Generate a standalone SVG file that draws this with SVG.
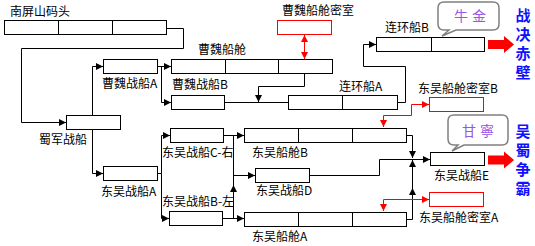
<svg xmlns="http://www.w3.org/2000/svg" width="535" height="246" viewBox="0 0 535 246">
<defs>
<style>
.bx{fill:#fff;stroke:#000;stroke-width:1}
.rb{fill:#fff;stroke:#f00;stroke-width:1}
.dv{stroke:#000;stroke-width:1}
.ln{fill:none;stroke:#000;stroke-width:1}
.rl{fill:none;stroke:#f00;stroke-width:1}
.t{font-family:"Noto Sans CJK SC","Noto Sans",sans-serif;font-size:12px;fill:#000}
.bt{font-family:"Noto Sans CJK SC",sans-serif;font-size:15px;font-weight:bold;fill:#1010ff}
.pt{font-family:"Noto Sans CJK SC",sans-serif;font-size:14px;fill:#9a55e6;letter-spacing:4px}
.bub{fill:#fff;stroke:#808080;stroke-width:1.5}
</style>
<marker id="a" markerWidth="8" markerHeight="8" refX="7" refY="4" orient="auto-start-reverse" markerUnits="userSpaceOnUse"><path d="M0,0.5 L7,4 L0,7.5z" fill="#000"/></marker>
<marker id="r" markerWidth="8" markerHeight="8" refX="7" refY="4" orient="auto-start-reverse" markerUnits="userSpaceOnUse"><path d="M0,0.5 L7,4 L0,7.5z" fill="#f00"/></marker>
</defs>
<rect width="535" height="246" fill="#fff"/>

<g id="connectors">
<path class="ln" d="M166.5,28.5 H183.5 V48.5 H21.5 V122.5 H66" marker-end="url(#a)"/>
<path class="ln" d="M92.5,115.5 V66.5 H103" marker-end="url(#a)"/>
<path class="ln" d="M92.5,129.5 V173.5 H103" marker-end="url(#a)"/>
<path class="ln" d="M157.5,66.5 H171" marker-end="url(#a)"/>
<path class="ln" d="M161.5,66.5 V102.5 H171" marker-end="url(#a)"/>
<path class="ln" d="M304.5,73.5 V86.5 H258.5 V102" marker-end="url(#a)"/>
<path class="ln" d="M224.5,102.5 H288.5"/>
<path class="ln" d="M397.5,102.5 H405.5 V66.5 H363.5 V44.5 H376" marker-end="url(#a)"/>
<path class="ln" d="M157.5,173.5 H161.5 V135.5 H170" marker-end="url(#a)"/>
<path class="ln" d="M161.5,173.5 V218.5 H169" marker-end="url(#a)"/>
<path class="ln" d="M223.5,135.5 H244" marker-end="url(#a)"/>
<path class="ln" d="M222.5,218.5 H244" marker-end="url(#a)"/>
<path class="ln" d="M233.5,135.5 V218.5"/>
<path class="ln" d="M233.5,175.5 H255" marker-end="url(#a)"/>
<path d="M233.5,185 L237,192 L230,192z" fill="#000"/>
<path class="ln" d="M406.5,135.5 H412.5 V158" marker-end="url(#a)"/>
<path class="ln" d="M309.5,175.5 H379.5 V159.5 H430" marker-end="url(#a)"/>
<path class="ln" d="M406.5,219.5 H412.5 V160" marker-end="url(#a)"/>
<path d="M412.5,188 L416,195 L409,195z" fill="#000"/>
<path class="rl" d="M304.5,35 V59" marker-start="url(#r)" marker-end="url(#r)"/>
<path class="rl" d="M429,104.5 H411.5 V115.5 H383.5 V127" marker-start="url(#r)" marker-end="url(#r)"/>
<path class="rl" d="M429,199.5 H383.5 V211" marker-start="url(#r)" marker-end="url(#r)"/>
</g>

<g id="nanpingshan">
<rect class="bx" x="4.5" y="20.5" width="162" height="14"/>
<path class="dv" d="M58.5,20.5 V34.5 M112.5,20.5 V34.5"/>
<text class="t" x="10" y="15.5">南屏山码头</text>
</g>
<g id="caowei-mishi">
<rect class="rb" x="277.5" y="20.5" width="54" height="14"/>
<text class="t" x="282" y="14.5">曹魏船舱密室</text>
</g>
<g id="shujun">
<rect class="bx" x="66.5" y="115.5" width="54" height="14"/>
<text class="t" x="39" y="144">蜀军战船</text>
</g>
<g id="caowei-a">
<rect class="bx" x="103.5" y="59.5" width="54" height="14"/>
<text class="t" x="102" y="87.5">曹魏战船A</text>
</g>
<g id="caowei-cang">
<rect class="bx" x="171.5" y="59.5" width="161" height="14"/>
<path class="dv" d="M225.5,59.5 V73.5 M278.5,59.5 V73.5"/>
<text class="t" x="198" y="54">曹魏船舱</text>
</g>
<g id="caowei-b">
<rect class="bx" x="171.5" y="95.5" width="53" height="14"/>
<text class="t" x="172" y="89">曹魏战船B</text>
</g>
<g id="lianhuan-a">
<rect class="bx" x="288.5" y="95.5" width="109" height="14"/>
<path class="dv" d="M342.5,95.5 V109.5"/>
<text class="t" x="339" y="90.5">连环船A</text>
</g>
<g id="lianhuan-b">
<rect class="bx" x="376.5" y="37.5" width="108" height="14"/>
<path class="dv" d="M431.5,37.5 V51.5"/>
<text class="t" x="385" y="31.5">连环船B</text>
</g>
<g id="dongwu-mishi-b">
<rect class="rb" x="429.5" y="97.5" width="54" height="14"/>
<text class="t" x="418" y="93">东吴船舱密室B</text>
</g>
<g id="dongwu-a">
<rect class="bx" x="103.5" y="166.5" width="54" height="14"/>
<text class="t" x="101" y="196">东吴战船A</text>
</g>
<g id="dongwu-c">
<rect class="bx" x="170.5" y="128.5" width="53" height="14"/>
<text class="t" x="162" y="157">东吴战船C-右</text>
</g>
<g id="dongwu-b">
<rect class="bx" x="169.5" y="211.5" width="53" height="14"/>
<text class="t" x="162" y="206">东吴战船B-左</text>
</g>
<g id="dongwu-cang-b">
<rect class="bx" x="244.5" y="128.5" width="162" height="14"/>
<path class="dv" d="M298.5,128.5 V142.5 M352.5,128.5 V142.5"/>
<text class="t" x="252" y="157">东吴船舱B</text>
</g>
<g id="dongwu-d">
<rect class="bx" x="255.5" y="168.5" width="54" height="14"/>
<text class="t" x="256" y="195">东吴战船D</text>
</g>
<g id="dongwu-cang-a">
<rect class="bx" x="244.5" y="212.5" width="162" height="14"/>
<path class="dv" d="M298.5,212.5 V226.5 M352.5,212.5 V226.5"/>
<text class="t" x="252" y="241">东吴船舱A</text>
</g>
<g id="dongwu-e">
<rect class="bx" x="430.5" y="152.5" width="54" height="13"/>
<text class="t" x="434" y="180">东吴战船E</text>
</g>
<g id="dongwu-mishi-a">
<rect class="rb" x="429.5" y="192.5" width="54" height="14"/>
<text class="t" x="419" y="222">东吴船舱密室A</text>
</g>

<g id="niujin">
<path class="bub" d="M444,2 H493 Q499,2 499,8 V24 Q499,30 493,30 H456 L442,36 L449,30 H444 Q438,30 438,24 V8 Q438,2 444,2 Z"/>
<text class="pt" x="454" y="21">牛金</text>
</g>
<g id="ganning">
<path class="bub" d="M454,115 H502 Q508,115 508,121 V139 Q508,145 502,145 H464 L452,151 L458,145 H454 Q448,145 448,139 V121 Q448,115 454,115 Z"/>
<text class="pt" x="462" y="136">甘寧</text>
</g>
<g id="arrow1">
<polygon points="488,40 504,40 504,36 514,44.5 504,53 504,49 488,49" fill="#f00"/>
</g>
<g id="arrow2">
<polygon points="488,155.5 504,155.5 504,151.5 514,160 504,168.5 504,164.5 488,164.5" fill="#f00"/>
</g>
<g id="title1">
<text class="bt" x="523" y="21" text-anchor="middle">战</text>
<text class="bt" x="523" y="40" text-anchor="middle">决</text>
<text class="bt" x="523" y="59" text-anchor="middle">赤</text>
<text class="bt" x="523" y="78" text-anchor="middle">壁</text>
</g>
<g id="title2">
<text class="bt" x="523" y="137" text-anchor="middle">吴</text>
<text class="bt" x="523" y="156" text-anchor="middle">蜀</text>
<text class="bt" x="523" y="175" text-anchor="middle">争</text>
<text class="bt" x="523" y="194" text-anchor="middle">霸</text>
</g>
</svg>
